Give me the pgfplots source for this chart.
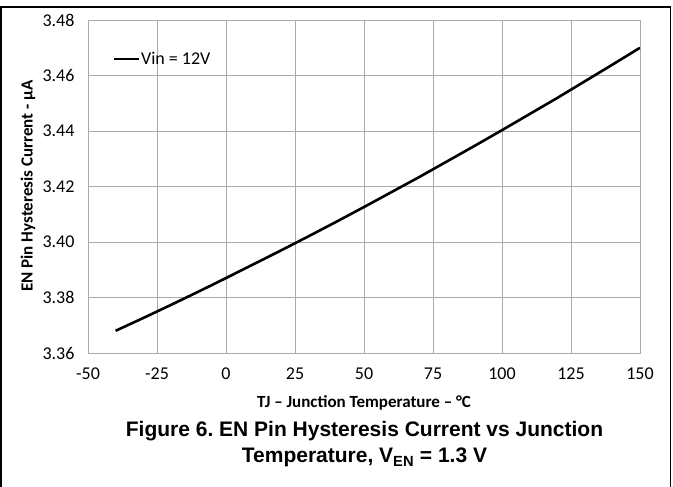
\documentclass[border=0pt]{standalone}
\usepackage{pgfplots}
\pgfplotsset{compat=1.18}
\usepackage{fontspec}
\setmainfont{Carlito}
\newfontfamily\arialfont{Liberation Sans}
\definecolor{gridgray}{RGB}{170,170,170}
\frenchspacing
\begin{document}
\begin{tikzpicture}[x=1pt,y=1pt]
\useasboundingbox (0,0) rectangle (673,487);
\draw[line width=1.5pt] (0.75,0) -- (0.75,480) -- (670.5,480) -- (670.5,0);
\begin{axis}[
  at={(88pt,134pt)}, anchor=south west,
  scale only axis, width=552pt, height=333pt,
  xmin=-50, xmax=150, ymin=3.36, ymax=3.48,
  xtick={-50,-25,...,150}, ytick={3.36,3.38,...,3.48},
  yticklabel style={/pgf/number format/fixed, /pgf/number format/fixed zerofill, /pgf/number format/precision=2, xshift=-10pt},
  /pgf/number format/assume math mode=true,
  tick label style={font=\fontsize{18}{20}\selectfont},
  grid=major, major grid style={gridgray, line width=0.9pt},
  axis line style={gridgray, line width=0.9pt},
  major tick length=0pt,
  xticklabel style={yshift=-11pt},
  legend style={draw=none, fill=none, at={(0.044,0.883)}, anchor=west,
    font=\fontsize{18}{20}\selectfont, inner sep=0pt, nodes={inner sep=1pt}},
  legend cell align=left,
  legend image code/.code={\draw[#1] (0pt,0pt) -- (25pt,0pt);},
]
\addplot[black, line width=2.6pt, line join=round] coordinates {
(-40,3.3680) (-30,3.3726) (-20,3.3773) (-10,3.3821) (0,3.3870) (10,3.3920)
(20,3.3970) (30,3.4021) (40,3.4073) (50,3.4126) (60,3.4180) (70,3.4234)
(80,3.4290) (90,3.4346) (100,3.4403) (110,3.4461) (120,3.4519)
(130,3.4579) (140,3.4639) (150,3.4700)};
\addlegendentry{Vin = 12V}
\end{axis}
\node[font=\bfseries\fontsize{17}{20}\selectfont] at (364,84)
  {TJ – Junction Temperature – °C};
\node[font=\bfseries\fontsize{17}{20}\selectfont, rotate=90] at (28,301)
  {EN Pin Hysteresis Current - µA};
\node[font=\arialfont\bfseries\fontsize{21}{24}\selectfont, anchor=base] at (364.5,50)
  {Figure 6. EN Pin Hysteresis Current vs Junction};
\node[font=\arialfont\bfseries\fontsize{21}{24}\selectfont, anchor=base] at (364.5,24)
  {Temperature, V\textsubscript{EN} = 1.3 V};
\end{tikzpicture}
\end{document}
